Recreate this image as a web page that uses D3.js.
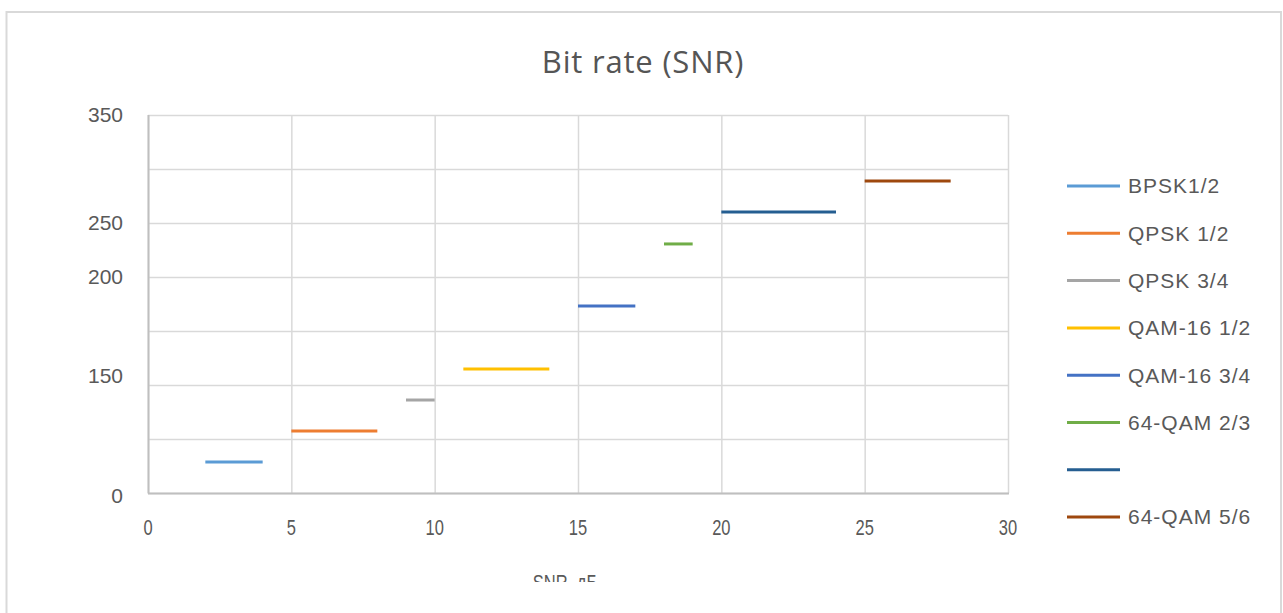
<!DOCTYPE html>
<html>
<head>
<meta charset="utf-8">
<script src="https://cdn.jsdelivr.net/npm/d3@7"></script>
<style>
  html, body { margin: 0; padding: 0; background: #fff; }
  svg { display: block; }
  text { font-family: "Liberation Sans", Arial, sans-serif; fill: #595959; }
</style>
</head>
<body>
<svg id="chart" width="1283" height="613"></svg>
<script>
// ---- data ----
const seriesNames = ["BPSK1/2", "QPSK 1/2", "QPSK 3/4", "QAM-16 1/2", "QAM-16 3/4", "64-QAM 2/3", "", "64-QAM 5/6"];
const snrStart = [2, 5, 9, 11, 15, 18, 20, 25];
const snrEnd   = [4, 8, 10, 14, 17, 19, 24, 28];
const bitRate  = [28.7, 57.4, 86.1, 114.8, 173.1, 230.6, 260.2, 288.9];
const seriesColors = ["#5B9BD5", "#ED7D31", "#A5A5A5", "#FFC000", "#4472C4", "#70AD47", "#255E91", "#9E480E"];
const xTicks = [0, 5, 10, 15, 20, 25, 30];
const yGrid = [0, 50, 100, 150, 200, 250, 300, 350];
const yTickLabels = ["350", "250", "200", "150", "0"];
const yTickValues = [350, 250, 200, 109, -2];
const titleText = "Bit rate (SNR)";
const xAxisTitle = "SNR, дБ";

// ---- layout ----
const svg = d3.select("#chart");
const plot = { left: 148, right: 1008, top: 115, bottom: 493 };
const x = d3.scaleLinear().domain([0, 30]).range([plot.left, plot.right]);
const y = d3.scaleLinear().domain([0, 350]).range([plot.bottom, plot.top]);

// clip (text is cut at the bottom in the original)
svg.append("defs").append("clipPath").attr("id", "clipArea")
  .append("rect").attr("x", 0).attr("y", 0).attr("width", 1283).attr("height", 582);

// outer frame
svg.append("path")
  .attr("d", "M6.5,613 L6.5,12 L1281,12 L1281,613")
  .attr("fill", "none").attr("stroke", "#d9d9d9").attr("stroke-width", 2);

const g = svg.append("g").attr("clip-path", "url(#clipArea)");

// title
g.append("text")
  .attr("x", 643).attr("y", 73)
  .attr("text-anchor", "middle")
  .style("font-family", "'Open Sans', 'Noto Sans', sans-serif")
  .style("font-size", "31px")
  .style("letter-spacing", "0.8px")
  .style("fill", "#555")
  .text(titleText);

// horizontal gridlines
g.append("g").selectAll("line").data(yGrid).join("line")
  .attr("x1", plot.left).attr("x2", plot.right)
  .attr("y1", d => y(d) + 0.5).attr("y2", d => y(d) + 0.5)
  .attr("stroke", "#d9d9d9").attr("stroke-width", 1.5);

// vertical gridlines
g.append("g").selectAll("line").data(xTicks).join("line")
  .attr("x1", d => x(d) + 0.5).attr("x2", d => x(d) + 0.5)
  .attr("y1", plot.top).attr("y2", plot.bottom)
  .attr("stroke", "#d9d9d9").attr("stroke-width", 1.5);

// axis lines
g.append("line").attr("x1", plot.left + 0.5).attr("x2", plot.left + 0.5)
  .attr("y1", plot.top).attr("y2", plot.bottom + 0.5)
  .attr("stroke", "#bfbfbf").attr("stroke-width", 2);
g.append("line").attr("x1", plot.left).attr("x2", plot.right + 1)
  .attr("y1", plot.bottom + 0.5).attr("y2", plot.bottom + 0.5)
  .attr("stroke", "#bfbfbf").attr("stroke-width", 2);

// y tick labels
g.append("g").selectAll("text").data(yTickLabels).join("text")
  .attr("x", 123)
  .attr("y", (d, i) => y(yTickValues[i]))
  .attr("dy", "0.35em")
  .attr("text-anchor", "end")
  .style("font-size", "21px")
  .text(d => d);

// x tick labels (condensed)
g.append("g").selectAll("text").data(xTicks).join("text")
  .attr("transform", d => `translate(${x(d)},527) scale(0.75,1)`)
  .attr("dy", "0.35em")
  .attr("text-anchor", "middle")
  .style("font-size", "22px")
  .text(d => d);

// x axis title (clipped at the bottom as in the original)
g.append("text")
  .attr("transform", "translate(565,590) scale(0.75,1)")
  .attr("text-anchor", "middle")
  .style("font-size", "22px")
  .text(xAxisTitle);

// series segments
const line = d3.line().x(d => x(d[0])).y(d => y(d[1]));
g.append("g").selectAll("path").data(seriesNames.map((n, i) => i)).join("path")
  .attr("d", i => line([[snrStart[i], bitRate[i]], [snrEnd[i], bitRate[i]]]))
  .attr("stroke", i => seriesColors[i])
  .attr("stroke-width", 3)
  .attr("fill", "none");

// legend
const legend = g.append("g");
const lg = legend.selectAll("g").data(seriesNames).join("g")
  .attr("transform", (d, i) => `translate(1067, ${186 + i * 47.3})`);
lg.append("line").attr("x1", 0).attr("x2", 53).attr("y1", 0).attr("y2", 0)
  .attr("stroke", (d, i) => seriesColors[i]).attr("stroke-width", 3);
lg.append("text").attr("x", 61).attr("y", 0).attr("dy", "0.35em")
  .style("font-size", "21px")
  .style("letter-spacing", "1px")
  .text(d => d);
</script>
</body>
</html>
